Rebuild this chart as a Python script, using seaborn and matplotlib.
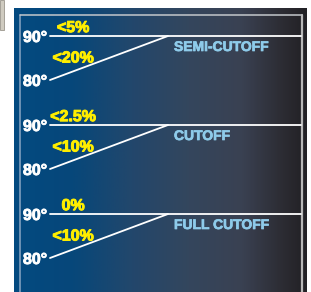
import numpy as np
import pandas as pd
import matplotlib
matplotlib.use("Agg")
import matplotlib.pyplot as plt
import matplotlib.patheffects as pe
from matplotlib.colors import LinearSegmentedColormap
from matplotlib.patches import Rectangle
import seaborn as sns

# luminaire classes (top to bottom) and the light allowed at each angle
classes = ["SEMI-CUTOFF", "CUTOFF", "FULL CUTOFF"]
pct_at_90 = ["<5%", "<2.5%", "0%"]
pct_at_80 = ["<20%", "<10%", "<10%"]
angles = [80, 90]
angle_labels = ["80°", "90°"]

sns.set_style("white")
plt.rcParams["font.family"] = ["Liberation Sans", "DejaVu Sans"]
plt.rcParams["font.weight"] = "bold"

W, H = 311, 292
fig = plt.figure(figsize=(W / 100, H / 100), dpi=100)
fig.patch.set_facecolor("white")


def fig_box(x0, y0, x1, y1):
    # pixel box (top-left origin) -> figure fraction rect
    return [x0 / W, 1 - y1 / H, (x1 - x0) / W, (y1 - y0) / H]


def thick(color, w=0.7):
    return [pe.withStroke(linewidth=w, foreground=color)]


# small grey thing peeking in at top left
fig.patches.append(Rectangle((0, 1 - 30 / H), 4 / W, 30 / H, transform=fig.transFigure,
                             facecolor="#cfcbc0", edgecolor="#9a968c", lw=0.6))

# background panel with horizontal gradient
bg = fig.add_axes(fig_box(14, 8, 307, H))
cmap = LinearSegmentedColormap.from_list("panel", [
    (0.0, "#034a80"), (0.2, "#07477a"), (0.4, "#22476c"), (0.6, "#34465d"),
    (0.78, "#3a4152"), (0.92, "#2c2c33"), (1.0, "#222125")])
bg.imshow(np.linspace(0, 1, 300)[None, :], cmap=cmap, aspect="auto", extent=[0, 1, 0, 1])
bg.set_xlim(0, 1)
bg.set_ylim(0, 1)
bg.axis("off")

# inner frame lines
bx0, bx1 = (20 - 14) / 293, (301.5 - 14) / 293
by = 1 - (14.5 - 8) / 284
bg.plot([bx0, bx0], [0, by], color="#8aa6c4", lw=1.1)
bg.plot([bx0, bx1], [by, by], color="#c4c8cc", lw=1.1)
bg.plot([bx1, bx1], [0, by], color="#b8b8b8", lw=1.6)

cutoff_x = 0.47
for i, name in enumerate(classes):
    y90 = 36 + 89 * i
    ax = fig.add_axes(fig_box(50, y90, 301, y90 + 44))
    ax.patch.set_alpha(0)
    lines = pd.DataFrame({
        "x": [0, 1, 0, cutoff_x],
        "angle": [angles[1], angles[1], angles[0], angles[1]],
        "seg": ["h", "h", "d", "d"],
    })
    sns.lineplot(data=lines, x="x", y="angle", units="seg", estimator=None,
                 sort=False, color="white", lw=1.3, ax=ax)
    for ln in ax.lines:
        ln.set_clip_on(False)
    ax.set_xlim(0, 1)
    ax.set_ylim(80, 90)
    ax.set_yticks(angles)
    ax.set_yticklabels(angle_labels, color="white", fontsize=11.5, fontweight="bold")
    for t in ax.get_yticklabels():
        t.set_path_effects(thick("white", 0.6))
    ax.tick_params(axis="y", length=0, pad=2)
    ax.set_xticks([])
    ax.set_xlabel("")
    ax.set_ylabel("")
    for s in ax.spines.values():
        s.set_visible(False)

    ax.text(0.092, 91.9, pct_at_90[i], color="#ffee00", fontsize=11.5,
            fontweight="bold", ha="center", va="center", path_effects=thick("#ffee00"))
    ax.text(0.092, 85.0, pct_at_80[i], color="#ffee00", fontsize=11.5,
            fontweight="bold", ha="center", va="center", path_effects=thick("#ffee00"))
    ax.text(0.494, 87.5, name, color="#8ecbea", fontsize=10,
            fontweight="bold", ha="left", va="center", path_effects=thick("#8ecbea", 0.5))

fig.savefig("out.png", dpi=100)
